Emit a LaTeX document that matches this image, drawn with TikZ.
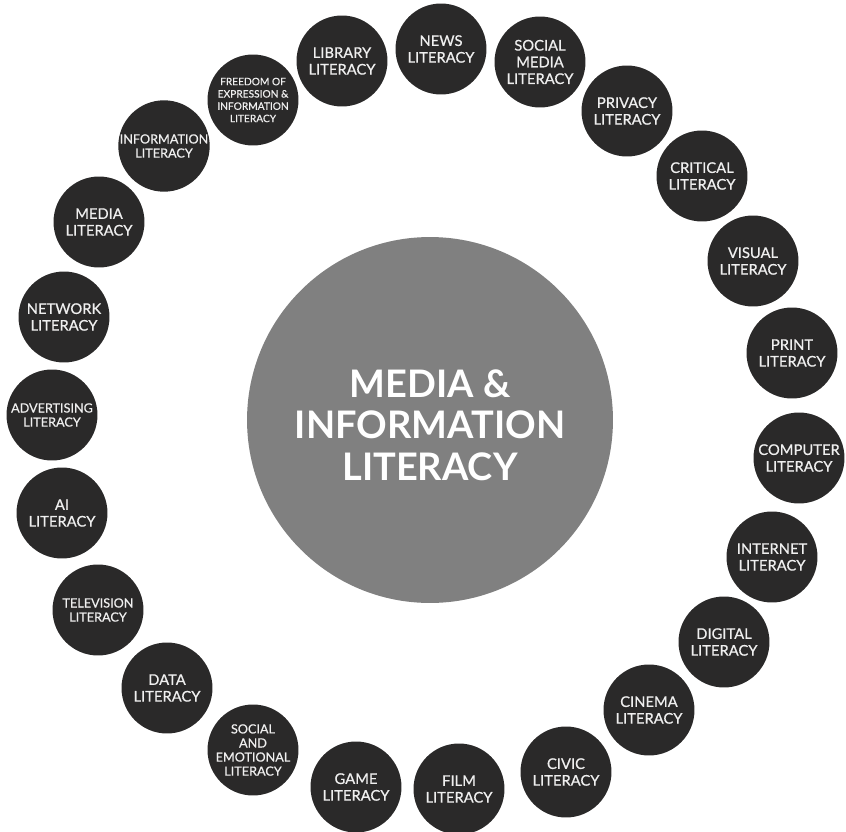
\documentclass[tikz,border=0pt]{standalone}
\usepackage{fontspec}
\setmainfont{Lato}
\newfontfamily\litfont[FakeBold=0.6]{Lato}
\usepackage{xcolor}
\usepackage{tikz}
\definecolor{hubgray}{HTML}{808080}
\definecolor{discdark}{HTML}{2A2929}
\definecolor{disctext}{HTML}{EFEFEF}

\begin{document}
\begin{tikzpicture}[x=0.02cm, y=-0.02cm,
	lit/.style={circle, fill=discdark, text=disctext, minimum size=1.82cm, inner sep=0pt, align=center, font=\litfont\fontsize{8.4}{9.5}\selectfont},
	lit small/.style={lit, font=\litfont\fontsize{7.2}{8}\selectfont},
	lit tiny/.style={lit, font=\litfont\fontsize{5.8}{7}\selectfont}]
	\useasboundingbox (0,0) rectangle (846,832);
	\node[circle, fill=hubgray, text=white, minimum size=7.32cm, inner sep=0pt] (Hub) at (430, 420) {};
	\node[align=center, text=white, font=\bfseries\fontsize{21.6}{23.6}\selectfont] (Hub Text) at (430, 425) {MEDIA \&\\INFORMATION\\LITERACY};
	\node[lit] (News) at (441, 49) {NEWS\\LITERACY};
	\node[lit] (Social Media) at (540, 62) {SOCIAL\\MEDIA\\LITERACY};
	\node[lit] (Privacy) at (627, 111) {PRIVACY\\LITERACY};
	\node[lit] (Critical) at (702, 176) {CRITICAL\\LITERACY};
	\node[lit] (Visual) at (753, 261) {VISUAL\\LITERACY};
	\node[lit] (Print) at (792, 353) {PRINT\\LITERACY};
	\node[lit] (Computer) at (799, 458) {COMPUTER\\LITERACY};
	\node[lit] (Internet) at (772, 557) {INTERNET\\LITERACY};
	\node[lit] (Digital) at (724, 642) {DIGITAL\\LITERACY};
	\node[lit] (Cinema) at (649, 710) {CINEMA\\LITERACY};
	\node[lit] (Civic) at (566, 772) {CIVIC\\LITERACY};
	\node[lit] (Film) at (459, 789) {FILM\\LITERACY};
	\node[lit] (Game) at (356, 787) {GAME\\LITERACY};
	\node[lit small] (Social Emotional) at (253, 750) {SOCIAL\\AND\\EMOTIONAL\\LITERACY};
	\node[lit] (Data) at (167, 688) {DATA\\LITERACY};
	\node[lit small] (Television) at (98, 610) {TELEVISION\\LITERACY};
	\node[lit] (AI) at (62, 513) {AI\\LITERACY};
	\node[lit small] (Advertising) at (52, 415) {ADVERTISING\\LITERACY};
	\node[lit] (Network) at (64, 317) {NETWORK\\LITERACY};
	\node[lit] (Media) at (99, 222) {MEDIA\\LITERACY};
	\node[lit small] (Information) at (164, 146) {INFORMATION\\LITERACY};
	\node[lit tiny] (Freedom) at (253, 100) {FREEDOM OF\\EXPRESSION \&\\INFORMATION\\LITERACY};
	\node[lit] (Library) at (342, 61) {LIBRARY\\LITERACY};
\end{tikzpicture}
\end{document}
